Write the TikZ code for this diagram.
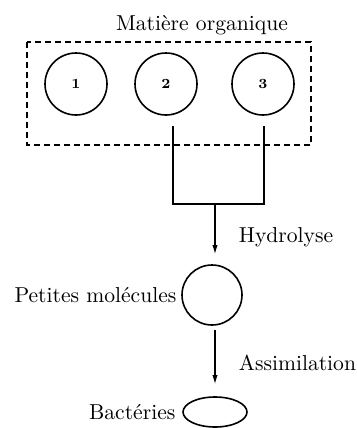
\documentclass[tikz,border=0pt]{standalone}
\usepackage{tikz}
\usetikzlibrary{shapes.geometric,arrows.meta,positioning,calc}

\begin{document}
\begin{tikzpicture}[x=0.5pt, y=-0.5pt, line width=0.8pt,
  bulle/.style={draw, circle, minimum size=31pt, inner sep=0pt},
  fleche/.style={-{Latex[length=4.5pt,width=2.6pt]}, line width=0.6pt},
  lbl/.style={font=\fontsize{10.8}{13}\selectfont, inner sep=1pt}]
  \useasboundingbox (0,0) rectangle (357,428);

  \node[lbl] (titre) at (202,25) {Matière organique};
  \draw[line width=0.7pt, dash pattern=on 3pt off 2pt] (27,42) rectangle (311,145);

  \node[bulle, font=\scriptsize\bfseries] (m1) at (76,84) {1};
  \node[bulle, font=\scriptsize\bfseries] (m2) at (166,84) {2};
  \node[bulle, font=\scriptsize\bfseries] (m3) at (263,84) {3};

  \coordinate (d2) at (173,126);
  \coordinate (d3) at (264,126);
  \coordinate (j) at (215,204);
  \draw[line width=0.6pt] (d2) |- (j) -| (d3);

  \node[bulle, minimum size=30pt] (pm) at (212,295) {};
  \node[lbl, left=1pt of pm] (pmt) {Petites molécules};
  \draw[fleche, shorten >=5pt] (j) -- (j |- pm.north);
  \node[lbl, anchor=west] (hyd) at (236,237) {Hydrolyse};

  \node[draw, ellipse, minimum width=32pt, minimum height=15pt, inner sep=0pt] (bac) at (215,412) {};
  \node[lbl, left=2pt of bac] (bact) {Bactéries};
  \draw[fleche, shorten <=2pt, shorten >=6pt] (pm.south -| j) -- (j |- bac.north);
  \node[lbl, anchor=west] (ass) at (236,363) {Assimilation};
\end{tikzpicture}
\end{document}
